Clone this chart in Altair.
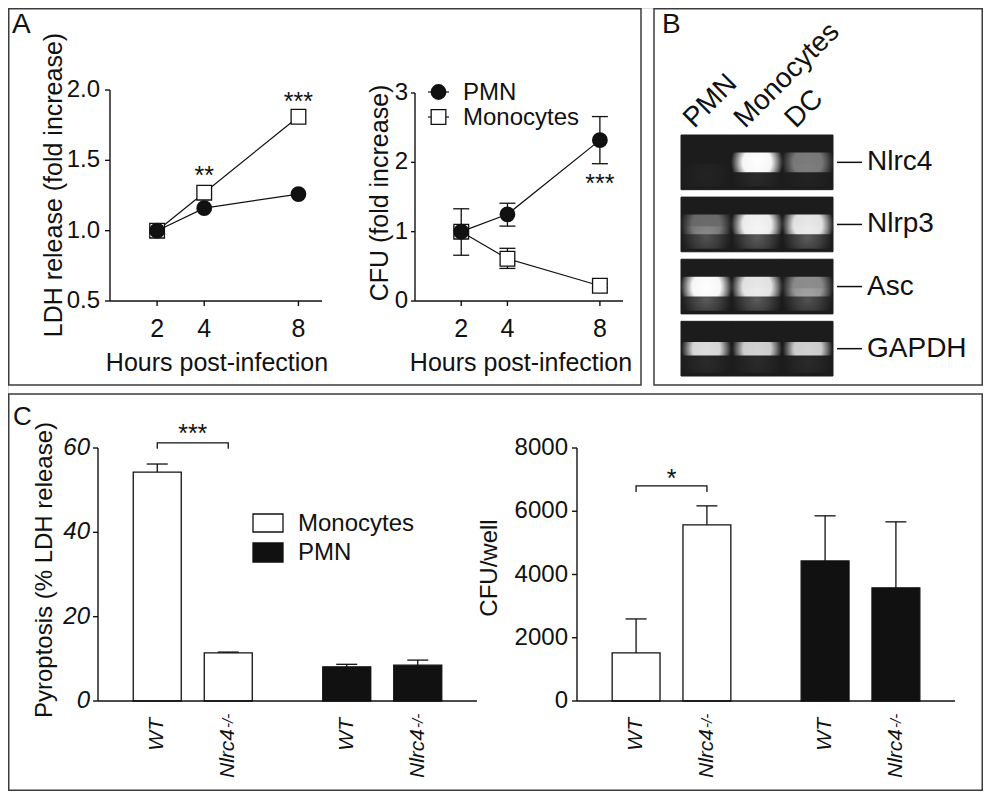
import altair as alt
import pandas as pd

# ============================ data ============================
hours = [2, 4, 8]
series_names = ["PMN", "Monocytes"]

# Panel A, left: LDH release (fold increase)
ldh_pmn = [1.00, 1.16, 1.26]
ldh_mono = [1.00, 1.27, 1.81]
ldh_ticks = [0.5, 1.0, 1.5, 2.0]
ldh_star_hours = [4, 8]
ldh_star_value = [1.43, 1.96]
ldh_star_text = ["**", "***"]

# Panel A, right: CFU (fold increase)
cfu_pmn = [1.00, 1.25, 2.32]
cfu_pmn_lo = [0.66, 1.08, 1.98]
cfu_pmn_hi = [1.33, 1.41, 2.66]
cfu_mono = [1.00, 0.61, 0.22]
cfu_mono_lo = [0.93, 0.47, 0.19]
cfu_mono_hi = [1.07, 0.76, 0.25]
fold_ticks = [0, 1, 2, 3]
fold_star_hours = [8]
fold_star_value = [1.77]
fold_star_text = ["***"]

# Panel B: RT-PCR gel (band brightness 0..1)
genes = ["Nlrc4", "Nlrp3", "Asc", "GAPDH"]
lanes = ["PMN", "Monocytes", "DC"]
band_nlrc4 = [0.00, 1.00, 0.42]
band_nlrp3 = [0.35, 0.95, 0.90]
band_asc = [1.00, 0.90, 0.50]
band_gapdh = [0.85, 0.80, 0.80]
smear_nlrc4 = [0.04, 0.08, 0.04]
smear_nlrp3 = [0.30, 0.35, 0.35]
smear_asc = [0.35, 0.35, 0.30]
smear_gapdh = [0.08, 0.08, 0.08]

# Panel C
cell_types = ["Monocytes", "PMN"]
genotypes = ["WT", "Nlrc4"]
genotype_sup = ["", "-/-"]
pyro_mean = [54.3, 11.4, 8.1, 8.5]
pyro_err = [1.9, 0.2, 0.6, 1.2]
pyro_ticks = [0, 20, 40, 60]
pyro_bracket = [59.8, 61.2]
pyro_star = 64.7
cfu_well_mean = [1520, 5570, 4430, 3580]
cfu_well_err = [1075, 600, 1425, 2085]
cfu_well_ticks = [0, 2000, 4000, 6000, 8000]
cfu_well_bracket = [6610, 6800]
cfu_well_star = 7215

# ============================ style / layout ============================
W, H = 975, 783
FONT = "Liberation Sans"
INK = "#111111"
BOX = "#3c3c3c"
LW = 1.4
ONE = pd.DataFrame({"k": [0]})


def txt(x, y, s, size, **kw):
    return alt.Chart(ONE).mark_text(font=FONT, fontSize=size, color=INK, **kw).encode(
        x=alt.value(x), y=alt.value(y), text=alt.value(s))


def box(x1, x2, y1, y2):
    return alt.Chart(ONE).mark_rect(filled=False, color=BOX, strokeWidth=1.5).encode(
        x=alt.value(x1), x2=alt.value(x2), y=alt.value(y1), y2=alt.value(y2))


def y_axis(xpx, yscale, domain, ticks, fmt, size, tick_len=5, pad=4, italic=False):
    """Axis line, ticks and labels of a vertical axis, placed through the y scale."""
    line = alt.Chart(pd.DataFrame({"lo": [domain[0]], "hi": [domain[1]]})).mark_rule(
        color=INK, strokeWidth=LW).encode(
        x=alt.value(xpx), y=alt.Y("lo:Q", scale=yscale, axis=None), y2="hi:Q")
    tk = alt.Chart(pd.DataFrame({"t": ticks}))
    marks = tk.mark_rule(color=INK, strokeWidth=LW).encode(
        x=alt.value(xpx - tick_len), x2=alt.value(xpx),
        y=alt.Y("t:Q", scale=yscale, axis=None))
    labels = tk.mark_text(font=FONT, fontSize=size, color=INK, align="right", baseline="middle",
                          fontStyle="italic" if italic else "normal").encode(
        x=alt.value(xpx - tick_len - pad), y=alt.Y("t:Q", scale=yscale, axis=None),
        text=alt.Text("t:Q", format=fmt))
    return [line, marks, labels]


def x_axis(ypx, xscale, domain, ticks, size, tick_len=5, label_y=None):
    line = alt.Chart(pd.DataFrame({"lo": [domain[0]], "hi": [domain[1]]})).mark_rule(
        color=INK, strokeWidth=LW).encode(
        y=alt.value(ypx), x=alt.X("lo:Q", scale=xscale, axis=None), x2="hi:Q")
    tk = alt.Chart(pd.DataFrame({"t": ticks}))
    marks = tk.mark_rule(color=INK, strokeWidth=LW).encode(
        y=alt.value(ypx), y2=alt.value(ypx + tick_len),
        x=alt.X("t:Q", scale=xscale, axis=None))
    labels = tk.mark_text(font=FONT, fontSize=size, color=INK, align="center",
                          baseline="middle").encode(
        y=alt.value(label_y), x=alt.X("t:Q", scale=xscale, axis=None), text="t:Q")
    return [line, marks, labels]


def vtitle(x, y, s, size):
    return txt(x, y, s, size, angle=270, align="center", baseline="middle")


# ============================ Panel A left ============================
a_df = pd.DataFrame({"hours": hours + hours, "ldh": ldh_pmn + ldh_mono,
                     "cfu": cfu_pmn + cfu_mono,
                     "lo": cfu_pmn_lo + cfu_mono_lo, "hi": cfu_pmn_hi + cfu_mono_hi,
                     "series": [series_names[0]] * 3 + [series_names[1]] * 3})

A_DOM = [0, 9]
A1X = alt.Scale(domain=A_DOM, range=[102, 314], nice=False, zero=False)
A1Y = alt.Scale(domain=[0.5, 2.0], range=[293, 82], nice=False, zero=False)


def xq(scale):
    return alt.X("hours:Q", scale=scale, axis=None)


a_base = alt.Chart(a_df)
a1_lines = a_base.mark_line(color=INK, strokeWidth=1.2).encode(
    x=xq(A1X), y=alt.Y("ldh:Q", scale=A1Y, axis=None), detail="series:N")
a1_sq = a_base.transform_filter(alt.datum.series == "Monocytes").mark_point(
    shape="square", size=215, filled=True, fill="white", stroke=INK, strokeWidth=1.3, opacity=1
).encode(x=xq(A1X), y=alt.Y("ldh:Q", scale=A1Y, axis=None))
a1_ci = a_base.transform_filter(alt.datum.series == "PMN").mark_point(
    shape="circle", size=190, filled=True, fill=INK, stroke=INK, opacity=1
).encode(x=xq(A1X), y=alt.Y("ldh:Q", scale=A1Y, axis=None))
a1_stars = alt.Chart(pd.DataFrame({"hours": ldh_star_hours, "v": ldh_star_value,
                                   "t": ldh_star_text})).mark_text(
    font=FONT, fontSize=25, color=INK, baseline="alphabetic", dy=14
).encode(x=xq(A1X), y=alt.Y("v:Q", scale=A1Y, axis=None), text="t:N")
A1 = alt.layer(
    *y_axis(102, A1Y, [0.5, 2.0], ldh_ticks, ".1f", 24, tick_len=5, pad=5),
    *x_axis(293, A1X, A_DOM, hours, 25, label_y=321),
    vtitle(46, 177, "LDH release (fold increase)", 25),
    txt(209, 355, "Hours post-infection", 25, align="center", baseline="middle"),
    a1_lines, a1_sq, a1_ci, a1_stars)

# ============================ Panel A right ============================
A2X = alt.Scale(domain=A_DOM, range=[407, 615], nice=False, zero=False)
A2Y = alt.Scale(domain=[0, 3], range=[293, 85], nice=False, zero=False)

a2_lines = a_base.mark_line(color=INK, strokeWidth=1.2).encode(
    x=xq(A2X), y=alt.Y("cfu:Q", scale=A2Y, axis=None), detail="series:N")
a2_err = a_base.mark_rule(color=INK, strokeWidth=1.3).encode(
    x=xq(A2X), y=alt.Y("lo:Q", scale=A2Y, axis=None), y2="hi:Q")
CAP = "M-1,0L1,0"
a2_cap_lo = a_base.mark_point(shape=CAP, size=256, filled=False, stroke=INK, strokeWidth=1.3,
                              opacity=1).encode(x=xq(A2X), y=alt.Y("lo:Q", scale=A2Y, axis=None))
a2_cap_hi = a_base.mark_point(shape=CAP, size=256, filled=False, stroke=INK, strokeWidth=1.3,
                              opacity=1).encode(x=xq(A2X), y=alt.Y("hi:Q", scale=A2Y, axis=None))
a2_sq = a_base.transform_filter(alt.datum.series == "Monocytes").mark_point(
    shape="square", size=215, filled=True, fill="white", stroke=INK, strokeWidth=1.3, opacity=1
).encode(x=xq(A2X), y=alt.Y("cfu:Q", scale=A2Y, axis=None))
a2_ci = a_base.transform_filter(alt.datum.series == "PMN").mark_point(
    shape="circle", size=190, filled=True, fill=INK, stroke=INK, opacity=1
).encode(x=xq(A2X), y=alt.Y("cfu:Q", scale=A2Y, axis=None))
a2_stars = alt.Chart(pd.DataFrame({"hours": fold_star_hours, "v": fold_star_value,
                                   "t": fold_star_text})).mark_text(
    font=FONT, fontSize=25, color=INK, baseline="alphabetic", dy=14
).encode(x=xq(A2X), y=alt.Y("v:Q", scale=A2Y, axis=None), text="t:N")


def leg_line(y):
    return alt.Chart(ONE).mark_rule(color=INK, strokeWidth=1.2).encode(
        x=alt.value(420), x2=alt.value(441), y=alt.value(y))


a2_leg = [
    leg_line(84), leg_line(109),
    alt.Chart(ONE).mark_point(shape="circle", size=190, filled=True, fill=INK, stroke=INK,
                              opacity=1).encode(x=alt.value(430.5), y=alt.value(84)),
    alt.Chart(ONE).mark_point(shape="square", size=215, filled=True, fill="white", stroke=INK,
                              strokeWidth=1.3, opacity=1).encode(x=alt.value(430.5), y=alt.value(109)),
    txt(455, 85, series_names[0], 24, align="left", baseline="middle"),
    txt(455, 110, series_names[1], 24, align="left", baseline="middle"),
]
A2 = alt.layer(
    *y_axis(407, A2Y, [0, 3], fold_ticks, "d", 24, tick_len=4, pad=3),
    *x_axis(293, A2X, A_DOM, hours, 25, label_y=321),
    vtitle(372, 185, "CFU (fold increase)", 25),
    txt(513, 355, "Hours post-infection", 25, align="center", baseline="middle"),
    a2_lines, a2_err, a2_cap_lo, a2_cap_hi, a2_sq, a2_ci, a2_stars, *a2_leg)

# ============================ Panel B: gel ============================
rows = []
for g, bands, smears in zip(genes,
                            [band_nlrc4, band_nlrp3, band_asc, band_gapdh],
                            [smear_nlrc4, smear_nlrp3, smear_asc, smear_gapdh]):
    for lane, b, s in zip(lanes, bands, smears):
        rows.append({"gene": g, "lane": lane, "band": b, "smear": s})
gel_df = pd.DataFrame(rows)

BX = alt.Scale(domain=lanes, range=[673, 825], paddingInner=0, paddingOuter=0)
BY = alt.Scale(domain=genes, range=[127, 368], paddingInner=0.12, paddingOuter=0)

glow = alt.RadialGradient(gradient="radial", stops=[
    alt.GradientStop(color="#ffffff", offset=0),
    alt.GradientStop(color="#f6f6f6", offset=0.55),
    alt.GradientStop(color="rgba(255,255,255,0)", offset=1)])
haze = alt.RadialGradient(gradient="radial", stops=[
    alt.GradientStop(color="#d0d0d0", offset=0),
    alt.GradientStop(color="rgba(200,200,200,0.6)", offset=0.5),
    alt.GradientStop(color="rgba(200,200,200,0)", offset=1)])

gel_base = alt.Chart(gel_df)
GX = alt.X("lane:N", scale=BX, axis=None)
GY = alt.Y("gene:N", scale=BY, axis=None)
gel_bg = gel_base.mark_rect(fill="#1c1c1c", stroke="#1c1c1c", strokeWidth=1).encode(x=GX, y=GY)
gel_smear = gel_base.mark_point(shape="M-1,-0.45L1,-0.45L1,0.45L-1,0.45Z", size=50 * 50,
                                filled=True, fill=haze, strokeWidth=0, yOffset=13).encode(
    x=GX, y=GY, opacity=alt.Opacity("smear:Q", scale=None, legend=None))
gel_band = gel_base.transform_filter(alt.datum.gene != "GAPDH").mark_point(
    shape="M-1,-0.38L1,-0.38L1,0.38L-1,0.38Z", size=52 * 52,
    filled=True, fill=glow, strokeWidth=0).encode(
    x=GX, y=GY, opacity=alt.Opacity("band:Q", scale=None, legend=None))
gel_band_thin = gel_base.transform_filter(alt.datum.gene == "GAPDH").mark_point(
    shape="M-1,-0.27L1,-0.27L1,0.27L-1,0.27Z", size=50 * 50,
    filled=True, fill=glow, strokeWidth=0).encode(
    x=GX, y=GY, opacity=alt.Opacity("band:Q", scale=None, legend=None))

gene_df = pd.DataFrame({"gene": genes})
lane_df = pd.DataFrame({"lane": lanes})
gel_ticks = alt.Chart(gene_df).mark_rule(color=INK, strokeWidth=1.5).encode(
    y=alt.Y("gene:N", scale=BY, axis=None, bandPosition=0.5),
    x=alt.value(829), x2=alt.value(854))
gel_names = alt.Chart(gene_df).mark_text(font=FONT, fontSize=28, color=INK, align="left",
                                         baseline="middle").encode(
    y=alt.Y("gene:N", scale=BY, axis=None, bandPosition=0.5), x=alt.value(859), text="gene:N")
lane_names = alt.Chart(lane_df).mark_text(font=FONT, fontSize=28, color=INK, align="left",
                                          baseline="alphabetic", angle=315, xOffset=-12).encode(
    x=alt.X("lane:N", scale=BX, axis=None, bandPosition=0.5), y=alt.value(121), text="lane:N")
B = alt.layer(gel_bg, gel_smear, gel_band, gel_band_thin, gel_ticks, gel_names, lane_names)

# ============================ Panel C ============================
c_df = pd.DataFrame({
    "cell": [c for c in cell_types for _ in genotypes],
    "geno": genotypes * 2,
    "sup": genotype_sup * 2,
    "pyro": pyro_mean,
    "pyro_hi": [m + e for m, e in zip(pyro_mean, pyro_err)],
    "cfu": cfu_well_mean,
    "cfu_hi": [m + e for m, e in zip(cfu_well_mean, cfu_well_err)],
})
FILL = alt.Scale(domain=cell_types, range=["white", INK])
OFF = alt.Scale(domain=genotypes, paddingInner=0.324, paddingOuter=0)


def bar_panel(xr, yscale, field, hi_field, bracket, star, star_text):
    XS = alt.Scale(domain=cell_types, range=xr, paddingInner=0.372, paddingOuter=0.186)
    base = alt.Chart(c_df)

    def X():
        return alt.X("cell:N", scale=XS, axis=None)

    XO = alt.XOffset("geno:N", scale=OFF)
    baseline = alt.Chart(ONE).mark_rule(color=INK, strokeWidth=LW).encode(
        x=alt.value(xr[0]), x2=alt.value(xr[1]), y=alt.value(693))
    bars = base.mark_bar(stroke=INK, strokeWidth=1.3).encode(
        x=X(), xOffset=XO, y=alt.Y(f"{field}:Q", scale=yscale, axis=None),
        fill=alt.Fill("cell:N", scale=FILL, legend=None))
    err = base.mark_rule(color=INK, strokeWidth=1.3).encode(
        x=X(), xOffset=XO, y=alt.Y(f"{field}:Q", scale=yscale, axis=None), y2=f"{hi_field}:Q")
    cap = base.mark_point(shape=CAP, size=441, filled=False, stroke=INK, strokeWidth=1.3,
                          opacity=1).encode(
        x=X(), xOffset=XO, y=alt.Y(f"{hi_field}:Q", scale=yscale, axis=None))
    lab_wt = base.transform_filter(alt.datum.geno == genotypes[0]).mark_text(
        font=FONT, fontSize=21, fontStyle="italic", color=INK, angle=270,
        align="right", baseline="middle").encode(
        x=X(), xOffset=XO, y=alt.value(710), text="geno:N")
    lab_ko = base.transform_filter(alt.datum.geno == genotypes[1]).mark_text(
        font=FONT, fontSize=21, fontStyle="italic", color=INK, angle=270,
        align="right", baseline="middle").encode(
        x=X(), xOffset=XO, y=alt.value(721), text="geno:N")
    lab_sup = base.transform_filter(alt.datum.geno == genotypes[1]).mark_text(
        font=FONT, fontSize=15, fontStyle="italic", color=INK, angle=270,
        align="left", baseline="middle", xOffset=-8).encode(
        x=X(), xOffset=XO, y=alt.value(720), text="sup:N")
    br_df = pd.DataFrame({"cell": [cell_types[0]] * 4,
                          "geno": [genotypes[0], genotypes[0], genotypes[1], genotypes[1]],
                          "v": [bracket[0], bracket[1], bracket[1], bracket[0]],
                          "step": [0, 1, 2, 3]})
    br = alt.Chart(br_df).mark_line(color=INK, strokeWidth=1.3).encode(
        x=X(), xOffset=XO, y=alt.Y("v:Q", scale=yscale, axis=None), order="step:Q")
    st = alt.Chart(pd.DataFrame({"cell": [cell_types[0]], "v": [star], "t": [star_text]})).mark_text(
        font=FONT, fontSize=25, color=INK, baseline="alphabetic", dy=14).encode(
        x=alt.X("cell:N", scale=XS, axis=None, bandPosition=0.5),
        y=alt.Y("v:Q", scale=yscale, axis=None), text="t:N")
    return [bars, baseline, err, cap, lab_wt, lab_ko, lab_sup, br, st]


C1Y = alt.Scale(domain=[0, 60], range=[693, 440], nice=False, zero=True)
c1_leg = [
    alt.Chart(ONE).mark_rect(fill="white", stroke=INK, strokeWidth=1.3).encode(
        x=alt.value(245), x2=alt.value(275), y=alt.value(506), y2=alt.value(524)),
    alt.Chart(ONE).mark_rect(fill=INK, stroke=INK, strokeWidth=1.3).encode(
        x=alt.value(245), x2=alt.value(275), y=alt.value(535), y2=alt.value(554)),
    txt(290, 516, cell_types[0], 24, align="left", baseline="middle"),
    txt(290, 545, cell_types[1], 24, align="left", baseline="middle"),
]
C1 = alt.layer(
    *bar_panel([90, 469], C1Y, "pyro", "pyro_hi", pyro_bracket, pyro_star, "***"),
    *y_axis(90, C1Y, [0, 60], pyro_ticks, "d", 24, tick_len=5, pad=3, italic=True),
    vtitle(37, 562, "Pyroptosis (% LDH release)", 24),
    *c1_leg)

C2Y = alt.Scale(domain=[0, 8000], range=[693, 440], nice=False, zero=True)
C2 = alt.layer(
    *bar_panel([569, 947], C2Y, "cfu", "cfu_hi", cfu_well_bracket, cfu_well_star, "*"),
    *y_axis(569, C2Y, [0, 8000], cfu_well_ticks, "d", 24, tick_len=5, pad=4),
    vtitle(482, 560, "CFU/well", 24))

# ============================ frame ============================
frames = [box(0.75, 633, 0.75, 377), box(646, 974.25, 0.75, 377),
          box(0.75, 974.25, 386, H - 0.75)]
letters = [txt(4, 25, "A", 28, align="left", baseline="alphabetic"),
           txt(654, 25, "B", 28, align="left", baseline="alphabetic"),
           txt(5, 417, "C", 26, align="left", baseline="alphabetic")]

chart = alt.layer(*frames, A1, A2, B, C1, C2, *letters).resolve_scale(
    x="independent", y="independent", xOffset="independent",
    fill="independent", opacity="independent"
).properties(
    width=W, height=H, padding=0, autosize=alt.AutoSizeParams(type="none")
).configure_view(stroke=None).configure(font=FONT)

chart.save("out.html", embed_options={"renderer": "svg", "actions": False})
